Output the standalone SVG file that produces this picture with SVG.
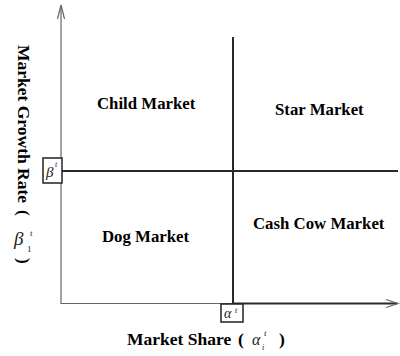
<svg xmlns="http://www.w3.org/2000/svg" width="400" height="356" viewBox="0 0 400 356">
<style>
.lbl{font-family:"Liberation Serif","Times New Roman",serif;font-weight:bold;font-size:16.8px;fill:#000}
.ax{font-family:"Liberation Serif","Times New Roman",serif;font-weight:bold;font-size:17.5px;fill:#000}
.m{font-family:"Liberation Serif","Times New Roman",serif;font-style:italic;fill:#222}
.axis{stroke:#666;stroke-width:1.2;fill:none}
.div{stroke:#2a2a2a;stroke-width:2;fill:none}
.box{fill:#fff;stroke:#222;stroke-width:1.5}
</style>
<rect width="400" height="356" fill="#fff"/>
<g id="connectors">
  <line class="axis" x1="61" y1="6" x2="61" y2="304"/>
  <path class="axis" d="M57.5,19 L61,5 L64.5,19"/>
  <line class="axis" x1="61" y1="303.5" x2="233" y2="303.5"/>
  <line class="div" x1="233" y1="303.5" x2="397" y2="303.5"/>
  <path class="axis" d="M386,299.5 L398,303.5 L386,307.5"/>
  <line class="div" x1="62" y1="171" x2="398" y2="171"/>
  <line class="div" x1="233" y1="37" x2="233" y2="304"/>
</g>
<g id="child"><text class="lbl" x="97" y="109">Child Market</text></g>
<g id="star"><text class="lbl" x="275" y="115">Star Market</text></g>
<g id="dog"><text class="lbl" x="102" y="242">Dog Market</text></g>
<g id="cashcow"><text class="lbl" x="253" y="229">Cash Cow Market</text></g>
<g id="beta-box">
  <rect class="box" x="43" y="158" width="19" height="25"/>
  <text class="m" x="46" y="177" font-size="15">β</text>
  <text class="m" x="55" y="167" font-size="8">t</text>
</g>
<g id="alpha-box">
  <rect class="box" x="221" y="304" width="22" height="18"/>
  <text class="m" x="224" y="318" font-size="14">α</text>
  <text class="m" x="235" y="313" font-size="8">t</text>
</g>
<g id="y-label">
  <text class="ax" transform="translate(18,45) rotate(90)">Market Growth Rate</text>
  <text class="ax" transform="translate(18,210) rotate(90)">(</text>
  <text class="m" x="14" y="245" font-size="19">β</text>
  <text class="m" x="30" y="236" font-size="9">t</text>
  <text x="27" y="252" font-size="9" font-family="Liberation Serif,serif" fill="#222">1</text>
  <text class="ax" transform="translate(18,258) rotate(90)">)</text>
</g>
<g id="x-label">
  <text class="ax" x="127" y="345">Market Share</text>
  <text class="ax" x="238" y="345">(</text>
  <text class="m" x="252" y="345" font-size="16">α</text>
  <text class="m" x="264" y="336" font-size="9">t</text>
  <text class="m" x="262" y="350" font-size="8">i</text>
  <text class="ax" x="279" y="345">)</text>
</g>
</svg>
